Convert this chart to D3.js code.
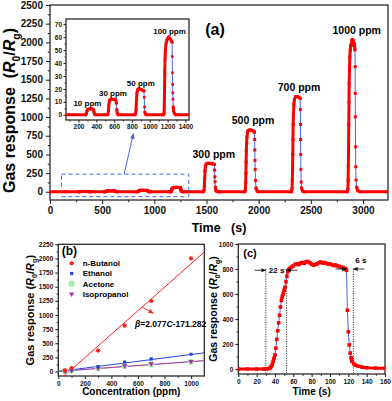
<!DOCTYPE html>
<html>
<head>
<script src="https://d3js.org/d3.v7.min.js"></script>
<style>
  body { margin: 0; background: #fff; }
  svg { display: block; font-family: "Liberation Sans", Arial, sans-serif; font-weight: bold; }
  .frame { fill: none; stroke: #2b2b2b; stroke-width: 1.3; }
  .axis path, .axis line { stroke: #2b2b2b; stroke-width: 1.1; }
  .axis text { font-family: "Liberation Sans", Arial, sans-serif; font-weight: bold; fill: #111; }
</style>
</head>
<body>
<svg id="chart" width="392" height="401"></svg>
<script>
// ---- (a) response / recovery trace, [time s, R0/Rg]
const traceA = [
  [0, 0], [150, 0], [280, 0],
  [288, 1], [295, 3], [305, 4.3], [330, 4.7], [355, 4.5], [368, 4.2], [374, 2], [380, 0.5], [392, 0],
  [520, 0], [530, 0.5], [536, 3], [540, 7], [546, 10.5], [555, 11.8], [575, 12.2], [600, 12], [618, 11.5],
  [625, 9], [630, 4], [635, 1], [645, 0],
  [830, 0], [840, 0.5], [846, 4], [850, 11], [856, 17], [865, 19.5], [880, 20.3], [905, 19.5], [925, 18.8],
  [935, 18.5], [938, 13.5], [941, 6], [945, 2], [952, 0.5], [965, 0],
  [1140, 0], [1155, 0], [1160, 1], [1162, 5], [1164, 12], [1166, 22], [1168, 33], [1171, 43], [1175, 50],
  [1182, 55], [1195, 58.5], [1210, 60], [1225, 59], [1240, 57.5], [1250, 56], [1252, 45], [1254, 32.5],
  [1256, 23.5], [1258, 17], [1260, 12], [1263, 6], [1267, 3], [1275, 1], [1290, 0], [1320, 0],
  [1470, 0], [1476, 20], [1480, 80], [1483, 180], [1486, 280], [1490, 340], [1497, 370], [1510, 382],
  [1530, 380], [1550, 376], [1565, 372], [1575, 365], [1578, 290], [1580, 200], [1582, 134], [1585, 60],
  [1590, 20], [1600, 5], [1620, 0],
  [1868, 0], [1873, 30], [1876, 120], [1878, 250], [1880, 400], [1882, 550], [1885, 650], [1888, 730],
  [1893, 790], [1900, 820], [1915, 828], [1935, 822], [1955, 810], [1960, 797], [1962, 700], [1963, 560],
  [1965, 420], [1967, 300], [1970, 150], [1975, 50], [1985, 10], [2000, 0],
  [2315, 0], [2320, 40], [2323, 150], [2325, 300], [2327, 500], [2329, 700], [2331, 900], [2334, 1050],
  [2338, 1170], [2343, 1240], [2355, 1275], [2370, 1276], [2385, 1265], [2398, 1250], [2400, 1100],
  [2401, 900], [2402, 700], [2403, 500], [2405, 300], [2408, 130], [2412, 50], [2420, 10], [2440, 0],
  [2850, 0], [2855, 30], [2858, 150], [2860, 350], [2862, 600], [2864, 900], [2866, 1200], [2868, 1450],
  [2871, 1650], [2874, 1800], [2878, 1900], [2883, 1960], [2890, 1990], [2895, 2035], [2900, 1985],
  [2905, 2030], [2910, 1960], [2915, 1990], [2920, 1950], [2923, 1900], [2925, 1674], [2926, 1317],
  [2927, 1004], [2929, 602], [2931, 335], [2934, 157], [2940, 60], [2950, 15], [2970, 0], [3240, 0]
];
const peakNames = ["300 ppm", "500 ppm", "700 ppm", "1000 ppm"];
const peakLabelT = [1570, 1946, 2387, 2940];
const peakTop = [380, 828, 1276, 2035];
const insetNames = ["10 ppm", "30 ppm", "50 ppm", "100 ppm"];
const insetLabelT = [300, 587, 900, 1222];
const insetTop = [4.7, 12.2, 20.3, 60];
const zoomWindowT = [110, 1330];
const zoomWindowV = [-65, 235];

const xTicksA = [0, 500, 1000, 1500, 2000, 2500, 3000];
const yTicksA = [0, 250, 500, 750, 1000, 1250, 1500, 1750, 2000, 2250, 2500];
const xTicksInset = [200, 400, 600, 800, 1000, 1200, 1400];
const yTicksInset = [0, 10, 20, 30, 40, 50, 60, 70];

// ---- (b) response vs concentration
const concLevels = [50, 100, 300, 500, 700, 1000];
const butanol = [19, 60, 370, 811, 1247, 2000];
const ethanol = [10, 30, 88, 166, 224, 305];
const acetone = [6, 20, 60, 95, 130, 172];
const isopropanol = [5, 18, 60, 100, 136, 176];
// [slope, intercept]
const butanolFit = [2.077, -171.282];
const ethanolFit = [0.3, 0];
const acetoneFit = [0.168, 2];
const isopropanolFit = [0.172, 2];
const xTicksB = [0, 200, 400, 600, 800, 1000];
const yTicksB = [0, 250, 500, 750, 1000, 1250, 1500, 1750, 2000, 2250];

// ---- (c) single cycle at 1000 ppm, [time s, R0/Rg]
const traceC = [
  [0, 0], [10, 0], [20, 0], [28, 0], [30, 1], [32, 2], [34, 6], [35, 12], [36, 20], [37, 35], [38, 60],
  [39, 85], [40, 113], [41, 167], [42, 237], [43, 306], [44, 369], [45, 430], [46, 496], [47, 549],
  [48, 580], [49, 602], [50, 630], [51, 654], [52, 699], [53, 741], [54, 778], [55, 795], [56, 805],
  [58, 815], [60, 825], [62, 838], [64, 842], [66, 835], [68, 848], [70, 852], [72, 845], [74, 858],
  [76, 860], [78, 850], [80, 838], [82, 830], [84, 836], [86, 842], [88, 850], [90, 856], [92, 848],
  [94, 852], [96, 845], [98, 840], [100, 842], [102, 835], [104, 828], [106, 832], [108, 825], [110, 820],
  [112, 815], [114, 812], [116, 805], [117, 800], [118, 790],
  [119, 470], [120, 298], [121, 193], [122, 127], [123, 90], [124, 62], [126, 42], [128, 30], [131, 22],
  [135, 15], [140, 10], [150, 7], [160, 5]
];
const responseMarks = [30, 52.5];
const recoveryMarks = [119, 125.5];
const xTicksC = [0, 20, 40, 60, 80, 100, 120, 140, 160];
const yTicksC = [0, 200, 400, 600, 800, 1000];

const RED = "#ff0000", BLUE = "#4a66f2";
const svg = d3.select("#chart");
svg.append("rect").attr("width", 392).attr("height", 401).attr("fill", "#fff");

function axes(g, x, y, w, h, c) {
  const gx = g.append("g").attr("class", "axis").attr("transform", `translate(0,${h})`)
    .call(d3.axisBottom(x).tickValues(c.xt).tickSize(c.tick).tickPadding(c.pad).tickFormat(d3.format("d")));
  gx.select(".domain").remove();
  gx.selectAll("text").attr("font-size", c.fs);
  const gxm = g.append("g").attr("class", "axis").attr("transform", `translate(0,${h})`)
    .call(d3.axisBottom(x).tickValues(c.xm).tickSize(c.tick * 0.55).tickFormat(""));
  gxm.select(".domain").remove();
  const gy = g.append("g").attr("class", "axis")
    .call(d3.axisLeft(y).tickValues(c.yt).tickSize(c.tick).tickPadding(c.pad).tickFormat(d3.format("d")));
  gy.select(".domain").remove();
  gy.selectAll("text").attr("font-size", c.fs);
  const gym = g.append("g").attr("class", "axis")
    .call(d3.axisLeft(y).tickValues(c.ym).tickSize(c.tick * 0.55).tickFormat(""));
  gym.select(".domain").remove();
  g.append("rect").attr("class", "frame").attr("width", w).attr("height", h);
}

function clip(g, id, w, h) {
  g.append("clipPath").attr("id", id).append("rect").attr("width", w).attr("height", h);
  return g.append("g").attr("clip-path", `url(#${id})`);
}

// blue line through the points; where samples pile up they read as a thick red band
function trace(g, x, y, pts, sparse, ms) {
  g.append("path").datum(pts)
    .attr("d", d3.line().x(d => x(d[0])).y(d => y(d[1])))
    .attr("fill", "none").attr("stroke", BLUE).attr("stroke-width", 1);
  const dense = d3.pairs(pts).filter(([a, b]) => !sparse(x(b[0]) - x(a[0]), y(b[1]) - y(a[1])));
  g.append("path")
    .attr("d", dense.map(([a, b]) => `M${x(a[0])},${y(a[1])}L${x(b[0])},${y(b[1])}`).join(""))
    .attr("fill", "none").attr("stroke", RED).attr("stroke-width", 3).attr("stroke-linecap", "round");
  g.selectAll(null).data(pts).join("rect")
    .attr("x", d => x(d[0]) - ms / 2).attr("y", d => y(d[1]) - ms / 2)
    .attr("width", ms).attr("height", ms).attr("fill", RED);
}

function gasTitle(t, fs, gap) {
  t.attr("font-size", fs).style("white-space", "pre").attr("text-anchor", "middle");
  t.append("tspan").text("Gas response" + gap + "(");
  t.append("tspan").attr("font-style", "italic").text("R");
  t.append("tspan").attr("font-size", fs * 0.65).attr("dy", fs * 0.3).text("0");
  t.append("tspan").attr("dy", -fs * 0.3).text("/");
  t.append("tspan").attr("font-style", "italic").text("R");
  t.append("tspan").attr("font-size", fs * 0.65).attr("dy", fs * 0.3).text("g");
  t.append("tspan").attr("dy", -fs * 0.3).text(")");
}

const defs = svg.append("defs");
function head(id, color) {
  defs.append("marker").attr("id", id).attr("viewBox", "0 0 10 10").attr("refX", 9).attr("refY", 5)
    .attr("markerWidth", 6).attr("markerHeight", 6).attr("orient", "auto-start-reverse")
    .append("path").attr("d", "M0,1L10,5L0,9z").attr("fill", color);
}
head("hb", BLUE); head("hr", "#ff2020"); head("hk", "#111");

// ================= (a)
{
  const L = 50, T = 5, w = 338, h = 195;
  const g = svg.append("g").attr("transform", `translate(${L},${T})`);
  const x = d3.scaleLinear().domain([0, 3240]).range([0, w]);
  const y = d3.scaleLinear().domain([-110, 2500]).range([h, 0]);
  axes(g, x, y, w, h, { xt: xTicksA, xm: d3.range(250, 3240, 500), yt: yTicksA, ym: d3.range(125, 2500, 250), tick: 4, pad: 3, fs: 10 });
  const p = clip(g, "ca", w, h);
  trace(p, x, y, traceA, (dx, dy) => dy > 4, 3);

  g.selectAll(".pk").data(peakNames).join("text")
    .attr("x", (d, i) => x(peakLabelT[i])).attr("y", (d, i) => y(peakTop[i]) - 5.5)
    .attr("text-anchor", "middle").attr("font-size", 10.5).text(d => d);
  g.append("text").attr("x", 165).attr("y", 30).attr("text-anchor", "middle").attr("font-size", 16).text("(a)");

  // zoom window and arrow to inset
  g.append("rect").attr("x", x(zoomWindowT[0])).attr("y", y(zoomWindowV[1]))
    .attr("width", x(zoomWindowT[1]) - x(zoomWindowT[0])).attr("height", y(zoomWindowV[0]) - y(zoomWindowV[1]))
    .attr("fill", "none").attr("stroke", BLUE).attr("stroke-width", 1).attr("stroke-dasharray", "4,3");
  g.append("line").attr("x1", x(710)).attr("y1", y(zoomWindowV[1])).attr("x2", x(800)).attr("y2", y(780))
    .attr("stroke", BLUE).attr("stroke-width", 1).attr("marker-end", "url(#hb)");

  svg.append("text").attr("transform", `translate(${L + w / 2},232)`).attr("text-anchor", "middle")
    .attr("font-size", 12.5).style("white-space", "pre").text("Time   (s)");
  gasTitle(svg.append("text").attr("transform", `translate(15,${T + h / 2 + 8}) rotate(-90)`), 16, "  ");

  // inset
  const iL = 66, iT = 19, iw = 123, ih = 101;
  const gi = svg.append("g").attr("transform", `translate(${iL},${iT})`);
  gi.append("rect").attr("width", iw).attr("height", ih).attr("fill", "#fff");
  const xi = d3.scaleLinear().domain([60, 1440]).range([0, iw]);
  const yi = d3.scaleLinear().domain([-4, 74]).range([ih, 0]);
  axes(gi, xi, yi, iw, ih, { xt: xTicksInset, xm: d3.range(100, 1440, 200), yt: yTicksInset, ym: d3.range(5, 74, 10), tick: 2.5, pad: 1.5, fs: 6.5 });
  const pi = clip(gi, "ci", iw, ih);
  trace(pi, xi, yi, traceA.filter(d => d[0] >= 0 && d[0] <= 1500), (dx, dy) => dy > 4, 2.6);
  gi.selectAll(".il").data(insetNames).join("text")
    .attr("x", (d, i) => xi(insetLabelT[i])).attr("y", (d, i) => yi(insetTop[i]) - 3)
    .attr("text-anchor", "middle").attr("font-size", 8).text(d => d);
}

// ================= (b)
{
  const L = 58.3, T = 244.3, w = 146, h = 131.7;
  const g = svg.append("g").attr("transform", `translate(${L},${T})`);
  const x = d3.scaleLinear().domain([0, 1100]).range([0, w]);
  const y = d3.scaleLinear().domain([-80, 2250]).range([h, 0]);
  axes(g, x, y, w, h, { xt: xTicksB, xm: d3.range(100, 1100, 200), yt: yTicksB, ym: d3.range(125, 2250, 250), tick: 3, pad: 2, fs: 6.5 });
  const p = clip(g, "cb", w, h);
  const series = [
    { name: "n-Butanol", v: butanol, fit: butanolFit, color: "#ff2020", shape: "circle" },
    { name: "Ethanol", v: ethanol, fit: ethanolFit, color: "#2244dd", shape: "square" },
    { name: "Acetone", v: acetone, fit: acetoneFit, color: "#a6eea0", shape: "big" },
    { name: "Isopropanol", v: isopropanol, fit: isopropanolFit, color: "#b02cb0", shape: "tri" }
  ];
  const sym = { circle: d3.symbol(d3.symbolCircle, 14), square: d3.symbol(d3.symbolSquare, 10), big: d3.symbol(d3.symbolCircle, 30), tri: d3.symbol(d3.symbolTriangle, 12) };
  const order = [2, 3, 1, 0];
  order.forEach(k => {
    const s = series[k];
    p.append("line").attr("x1", x(0)).attr("y1", y(s.fit[1])).attr("x2", x(1100)).attr("y2", y(s.fit[0] * 1100 + s.fit[1]))
      .attr("stroke", s.color).attr("stroke-width", s.shape === "big" ? 1.4 : 1);
  });
  order.forEach(k => {
    const s = series[k];
    p.selectAll(null).data(concLevels).join("path")
      .attr("transform", (c, i) => `translate(${x(c)},${y(s.v[i])})` + (s.shape === "tri" ? " rotate(180)" : ""))
      .attr("d", sym[s.shape]()).attr("fill", s.color);
  });
  const lg = g.append("g").attr("transform", "translate(13.4,19)");
  series.forEach((s, i) => {
    lg.append("path").attr("transform", `translate(0,${i * 10.2})` + (s.shape === "tri" ? " rotate(180)" : ""))
      .attr("d", sym[s.shape]()).attr("fill", s.color);
    lg.append("text").attr("x", 11).attr("y", i * 10.2 + 3).attr("font-size", 8).text(s.name);
  });
  g.append("text").attr("x", 3.4).attr("y", 11).attr("font-size", 12).text("(b)");

  const ft = g.append("text").attr("x", x(578)).attr("y", y(788)).attr("font-size", 8.5);
  ft.append("tspan").attr("font-style", "italic").text("β");
  ft.append("tspan").text("=2.077");
  ft.append("tspan").attr("font-style", "italic").text("C");
  ft.append("tspan").text("-171.282");
  g.append("line").attr("x1", x(630)).attr("y1", y(1140)).attr("x2", x(716)).attr("y2", y(1030))
    .attr("stroke", "#ff2020").attr("stroke-width", 0.9).attr("marker-end", "url(#hr)");

  svg.append("text").attr("x", L + w / 2).attr("y", 395).attr("text-anchor", "middle").attr("font-size", 10).text("Concentration (ppm)");
  gasTitle(svg.append("text").attr("transform", `translate(34,${T + h / 2}) rotate(-90)`), 11, " ");
}

// ================= (c)
{
  const L = 238.3, T = 244, w = 146.7, h = 130;
  const g = svg.append("g").attr("transform", `translate(${L},${T})`);
  const x = d3.scaleLinear().domain([0, 160]).range([0, w]);
  const y = d3.scaleLinear().domain([-40, 1000]).range([h, 0]);
  axes(g, x, y, w, h, { xt: xTicksC, xm: d3.range(10, 160, 20), yt: yTicksC, ym: d3.range(100, 1000, 200), tick: 3, pad: 2, fs: 6.5 });
  const p = clip(g, "cc", w, h);
  [...responseMarks, recoveryMarks[1]].forEach(t => {
    p.append("line").attr("x1", x(t)).attr("x2", x(t)).attr("y1", y(800)).attr("y2", y(-40))
      .attr("stroke", "#111").attr("stroke-width", 0.8).attr("stroke-dasharray", "1.2,1.2");
  });
  trace(p, x, y, traceC, (dx, dy) => Math.abs(dy) > 4 && Math.abs(dy) > 2 * Math.abs(dx), 3.6);

  const ay = y(790);
  const arrow = (x1, x2, yy) => g.append("line").attr("x1", x1).attr("x2", x2).attr("y1", yy).attr("y2", yy)
    .attr("stroke", "#111").attr("stroke-width", 0.8).attr("marker-end", "url(#hk)");
  arrow(x(responseMarks[0]) - 11, x(responseMarks[0]), ay);
  arrow(x(responseMarks[1]) + 11, x(responseMarks[1]), ay);
  g.append("text").attr("x", x(responseMarks[0]) + 3).attr("y", ay + 3).attr("font-size", 8).text("22 s");
  arrow(x(recoveryMarks[0]) - 12, x(recoveryMarks[0]) - 1, y(800));
  arrow(x(recoveryMarks[1]) + 11, x(recoveryMarks[1]), y(800));
  g.append("text").attr("x", x(recoveryMarks[1]) + 2).attr("y", y(850)).attr("font-size", 8).text("6 s");
  g.append("text").attr("x", 5).attr("y", 13).attr("font-size", 11).text("(c)");

  svg.append("text").attr("x", L + w / 2).attr("y", 395).attr("text-anchor", "middle").attr("font-size", 10).text("Time (s)");
  gasTitle(svg.append("text").attr("transform", `translate(217,${T + h / 2}) rotate(-90)`), 10.5, " ");
}
</script>
</body>
</html>
